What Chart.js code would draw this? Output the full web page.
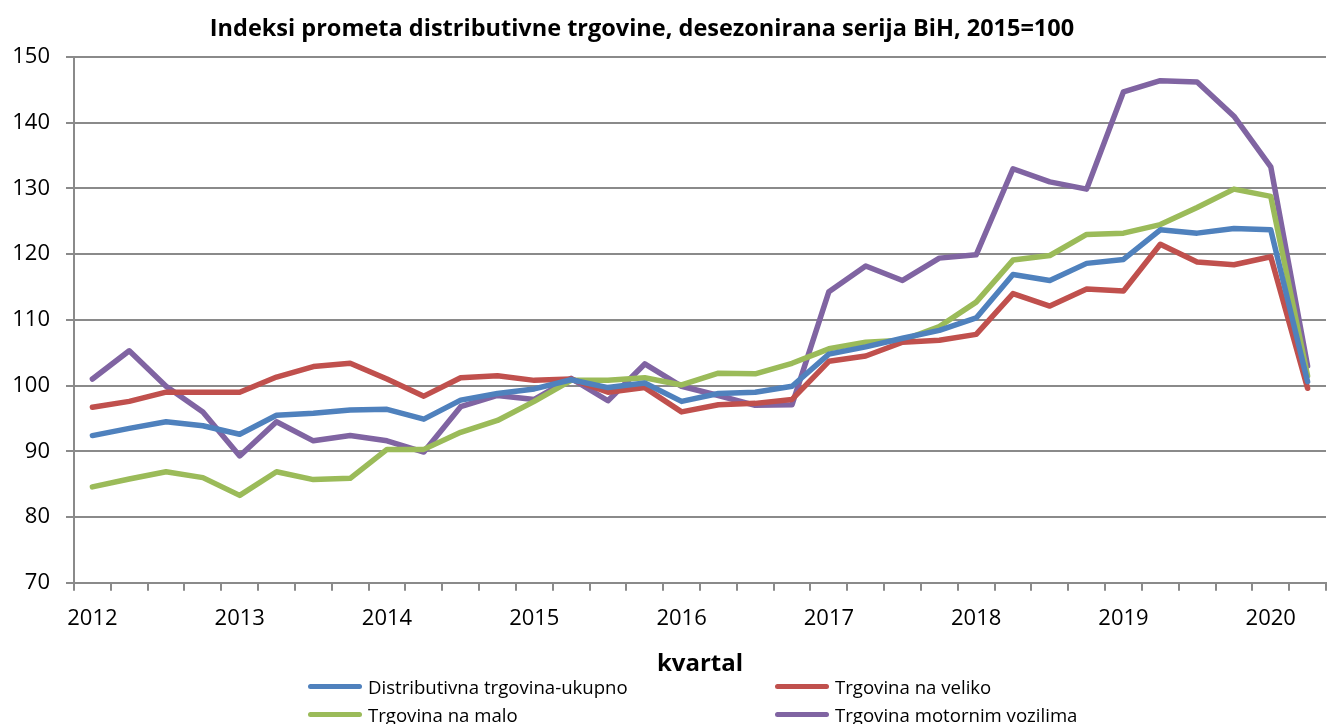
<!DOCTYPE html>
<html>
<head>
<meta charset="utf-8">
<script src="https://cdn.jsdelivr.net/npm/chart.js@4.4.1/dist/chart.umd.min.js"></script>
<style>
    body { margin: 0; background: #fff; }
    #wrap { position: relative; width: 1328px; height: 724px; }
    #legend { position: absolute; left: 0; top: 0; width: 1328px; height: 724px; pointer-events: none; }
    #title { position: absolute; left: 142px; width: 1000px; top: 12px; text-align: center; font-family: "Open Sans", sans-serif; font-weight: bold; font-size: 23.5px; line-height: 30px; color: #000; white-space: nowrap; }
    .item { position: absolute; display: flex; align-items: center; font-family: "Open Sans", sans-serif; font-size: 18.6px; color: #000; white-space: nowrap; }
    .swatch { width: 54px; height: 5px; border-radius: 3px; margin-right: 6px; }
</style>
</head>
<body>
<div id="wrap">
    <canvas id="trgChart" width="1328" height="724"></canvas>
    <div id="title">Indeksi prometa distributivne trgovine, desezonirana serija BiH, 2015=100</div>
    <div id="legend"></div>
</div>
<script>
// quarters 2012 Q1 - 2020 Q2
const quarters = [
    '2012 Q1','2012 Q2','2012 Q3','2012 Q4',
    '2013 Q1','2013 Q2','2013 Q3','2013 Q4',
    '2014 Q1','2014 Q2','2014 Q3','2014 Q4',
    '2015 Q1','2015 Q2','2015 Q3','2015 Q4',
    '2016 Q1','2016 Q2','2016 Q3','2016 Q4',
    '2017 Q1','2017 Q2','2017 Q3','2017 Q4',
    '2018 Q1','2018 Q2','2018 Q3','2018 Q4',
    '2019 Q1','2019 Q2','2019 Q3','2019 Q4',
    '2020 Q1','2020 Q2'
];
const tickLabels = [
    '2012','','','', '2013','','','', '2014','','','', '2015','','','',
    '2016','','','', '2017','','','', '2018','','','', '2019','','','',
    '2020',''
];

const ukupno = [92.4, 93.5, 94.5, 93.9, 92.6, 95.5, 95.8, 96.3, 96.4, 94.9, 97.8, 98.8, 99.5, 100.9, 99.7, 100.4,
    97.6, 98.8, 99.0, 99.9, 104.8, 105.9, 107.2, 108.4, 110.3, 116.9, 116.0, 118.6, 119.2, 123.7, 123.2, 123.9, 123.7, 100.6];
const naVeliko = [96.7, 97.6, 99.0, 99.0, 99.0, 101.3, 102.9, 103.4, 101.0, 98.4, 101.2, 101.5, 100.8, 101.0, 99.0, 99.7,
    96.0, 97.1, 97.3, 97.9, 103.7, 104.5, 106.6, 106.9, 107.8, 114.0, 112.1, 114.7, 114.4, 121.5, 118.8, 118.4, 119.6, 99.6];
const naMalo = [84.6, 85.8, 86.9, 86.0, 83.3, 86.9, 85.7, 85.9, 90.3, 90.3, 92.9, 94.7, 97.6, 100.8, 100.8, 101.2,
    100.1, 101.9, 101.8, 103.4, 105.6, 106.6, 106.9, 109.0, 112.7, 119.1, 119.8, 123.0, 123.2, 124.5, 127.1, 129.9, 128.8, 101.5];
const motornaVozila = [101.0, 105.3, 99.9, 96.0, 89.3, 94.5, 91.6, 92.4, 91.6, 89.9, 96.8, 98.5, 97.9, 101.1, 97.7, 103.3,
    99.9, 98.5, 97.0, 97.1, 114.3, 118.2, 116.0, 119.4, 119.9, 133.0, 131.0, 129.9, 144.7, 146.4, 146.2, 141.0, 133.3, 103.0];

const gridColor = '#8a8a8a';
const fontFamily = '"Open Sans", sans-serif';

function line(label, data, color) {
    return {
        label: label,
        data: data,
        borderColor: color,
        backgroundColor: color,
        borderWidth: 5.5,
        pointRadius: 0,
        tension: 0,
        borderJoinStyle: 'round',
        borderCapStyle: 'round'
    };
}

const trgChart = new Chart(document.getElementById('trgChart'), {
    type: 'line',
    data: {
        labels: quarters,
        datasets: [
            line('Distributivna trgovina-ukupno', ukupno, '#4F81BD'),
            line('Trgovina na veliko', naVeliko, '#C0504D'),
            line('Trgovina na malo', naMalo, '#9BBB59'),
            line('Trgovina motornim vozilima', motornaVozila, '#8064A2')
        ]
    },
    options: {
        responsive: false,
        animation: false,
        layout: { padding: { left: 0, right: 2, top: 57, bottom: 45 } },
        plugins: {
            legend: { display: false },
            tooltip: { enabled: false },
            title: { display: false }
        },
        scales: {
            x: {
                offset: true,
                grid: { offset: true, drawOnChartArea: false, drawTicks: true, tickLength: 8, color: gridColor, lineWidth: 2 },
                border: { color: gridColor, width: 2 },
                ticks: {
                    autoSkip: false, maxRotation: 0, padding: 15, color: '#000',
                    font: { family: fontFamily, size: 22 },
                    callback: (v, i) => tickLabels[i]
                },
                title: {
                    display: true, text: 'kvartal', color: '#000',
                    font: { family: fontFamily, size: 24, weight: 'bold' },
                    padding: { top: 3, bottom: 0 }
                }
            },
            y: {
                min: 70,
                max: 150,
                afterFit: scale => { scale.width = 74; },
                grid: { color: gridColor, lineWidth: 2, tickLength: 8 },
                border: { color: gridColor, width: 2 },
                ticks: { stepSize: 10, padding: 16, color: '#000', font: { family: fontFamily, size: 22 } }
            }
        }
    }
});

// legend in two columns, like the original
const legendPos = [[308, 686], [775, 686], [308, 714], [775, 714]];
document.getElementById('legend').innerHTML = trgChart.data.datasets.map((ds, i) => `
    <div class="item" style="left:${legendPos[i][0]}px; top:${legendPos[i][1] - 13}px; height:26px;">
        <div class="swatch" style="background:${ds.borderColor};"></div>${ds.label}
    </div>
`).join('');
</script>
</body>
</html>
